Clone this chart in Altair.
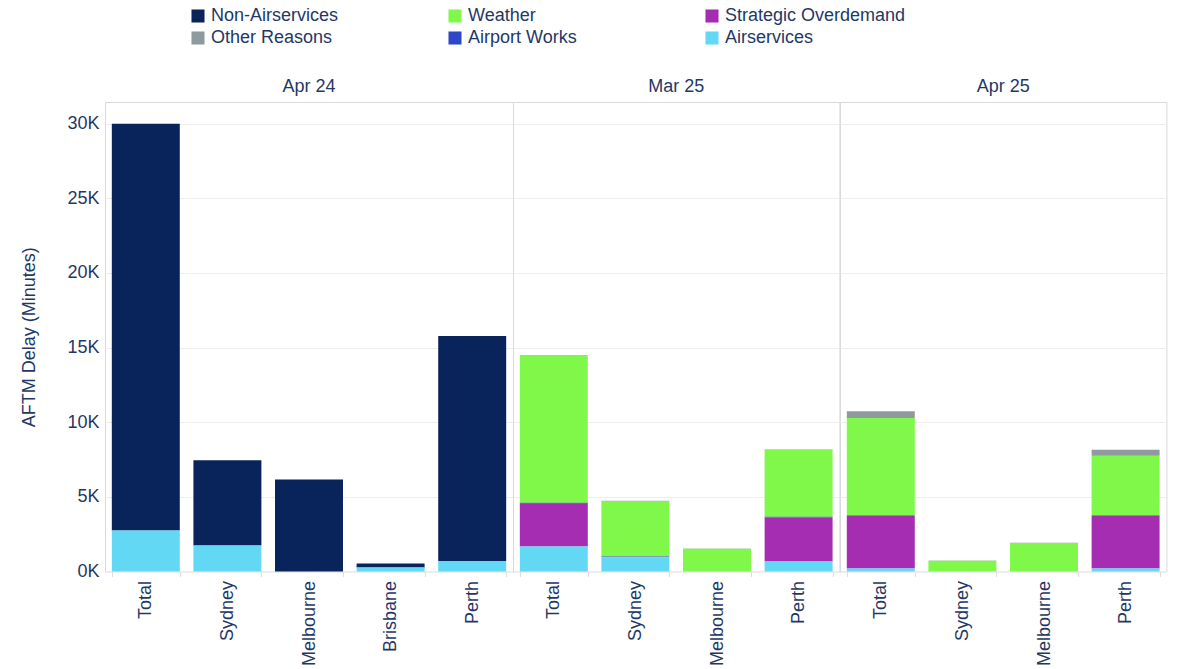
import altair as alt
import pandas as pd

months = ["Apr 24", "Mar 25", "Apr 25"]
airport_order = ["Total", "Sydney", "Melbourne", "Brisbane", "Perth"]

bar_month = ["Apr 24"] * 5 + ["Mar 25"] * 4 + ["Apr 25"] * 4
bar_airport = ["Total", "Sydney", "Melbourne", "Brisbane", "Perth",
               "Total", "Sydney", "Melbourne", "Perth",
               "Total", "Sydney", "Melbourne", "Perth"]

categories = ["Non-Airservices", "Weather", "Strategic Overdemand",
              "Other Reasons", "Airport Works", "Airservices"]
colors = ["#08245a", "#7ff84a", "#a42db1", "#8f9a9f", "#2c48c6", "#62d8f5"]
# stacking order, bottom (0) to top
stack_rank = {"Airservices": 0, "Strategic Overdemand": 1, "Airport Works": 2,
              "Weather": 3, "Other Reasons": 4, "Non-Airservices": 5}

# delay minutes per bar (same order as bar_month / bar_airport)
non_airservices = [27250, 5700, 6170, 270, 15070, 0, 0, 0, 0, 0, 0, 0, 0]
weather = [0, 0, 0, 0, 0, 9890, 3710, 1520, 4520, 6520, 720, 1910, 3990]
strategic = [0, 0, 0, 0, 0, 2860, 0, 0, 2950, 3540, 0, 0, 3540]
other_reasons = [0, 0, 0, 0, 0, 0, 20, 20, 0, 450, 20, 20, 400]
airport_works = [0, 0, 0, 0, 0, 70, 50, 0, 50, 30, 0, 0, 20]
airservices = [2750, 1750, 0, 270, 700, 1680, 960, 0, 670, 200, 0, 0, 200]

series = {
    "Non-Airservices": non_airservices,
    "Weather": weather,
    "Strategic Overdemand": strategic,
    "Other Reasons": other_reasons,
    "Airport Works": airport_works,
    "Airservices": airservices,
}

rows = []
for cat, vals in series.items():
    for m, a, v in zip(bar_month, bar_airport, vals):
        if v > 0:
            rows.append({"month": m, "airport": a, "category": cat,
                         "value": v, "rank": stack_rank[cat]})
df = pd.DataFrame(rows)

text_color = "#1f3866"
font = "Liberation Sans"

bars = alt.Chart(df).mark_bar().encode(
    x=alt.X("airport:N", sort=airport_order,
            scale=alt.Scale(paddingInner=0.167, paddingOuter=0.0835),
            axis=alt.Axis(title=None, labelAngle=-90, labelFontSize=18,
                          labelColor=text_color, labelFont=font,
                          domain=False, ticks=True, tickBand="extent",
                          tickSize=5, tickColor="#dddddd", labelPadding=4)),
    y=alt.Y("value:Q", stack="zero",
            scale=alt.Scale(domain=[0, 31450], nice=False),
            axis=alt.Axis(title="AFTM Delay (Minutes)",
                          values=[0, 5000, 10000, 15000, 20000, 25000, 30000],
                          labelExpr="(datum.value / 1000) + 'K'",
                          labelFontSize=18, labelColor=text_color, labelFont=font,
                          titleFontSize=18, titleColor=text_color, titleFont=font,
                          titleFontWeight="normal", titlePadding=28,
                          ticks=False, domain=False, labelPadding=6,
                          gridColor="#eeeeee")),
    color=alt.Color("category:N",
                    scale=alt.Scale(domain=categories, range=colors),
                    legend=alt.Legend(title=None, orient="none", legendX=84,
                                      legendY=-95, columns=3, direction="horizontal",
                                      gridAlign="all",
                                      columnPadding=54, rowPadding=4,
                                      symbolType="square", symbolSize=170,
                                      symbolStrokeWidth=0, labelFontSize=18,
                                      labelColor=text_color, labelFont=font,
                                      labelLimit=400)),
    order=alt.Order("rank:Q", sort="ascending"),
).properties(width=alt.Step(81.6), height=469.5)

chart = bars.facet(
    column=alt.Column("month:N", sort=months,
                      header=alt.Header(title=None, labelFontSize=18,
                                        labelColor=text_color, labelFont=font,
                                        labelPadding=6)),
    spacing=0,
    bounds="flush",
).resolve_scale(x="independent").configure_view(
    stroke="#d9d9d9"
).properties(
    padding={"left": 20, "top": 7, "right": 8, "bottom": 4}
)

chart.save("out.html", embed_options={"renderer": "svg", "actions": False})
